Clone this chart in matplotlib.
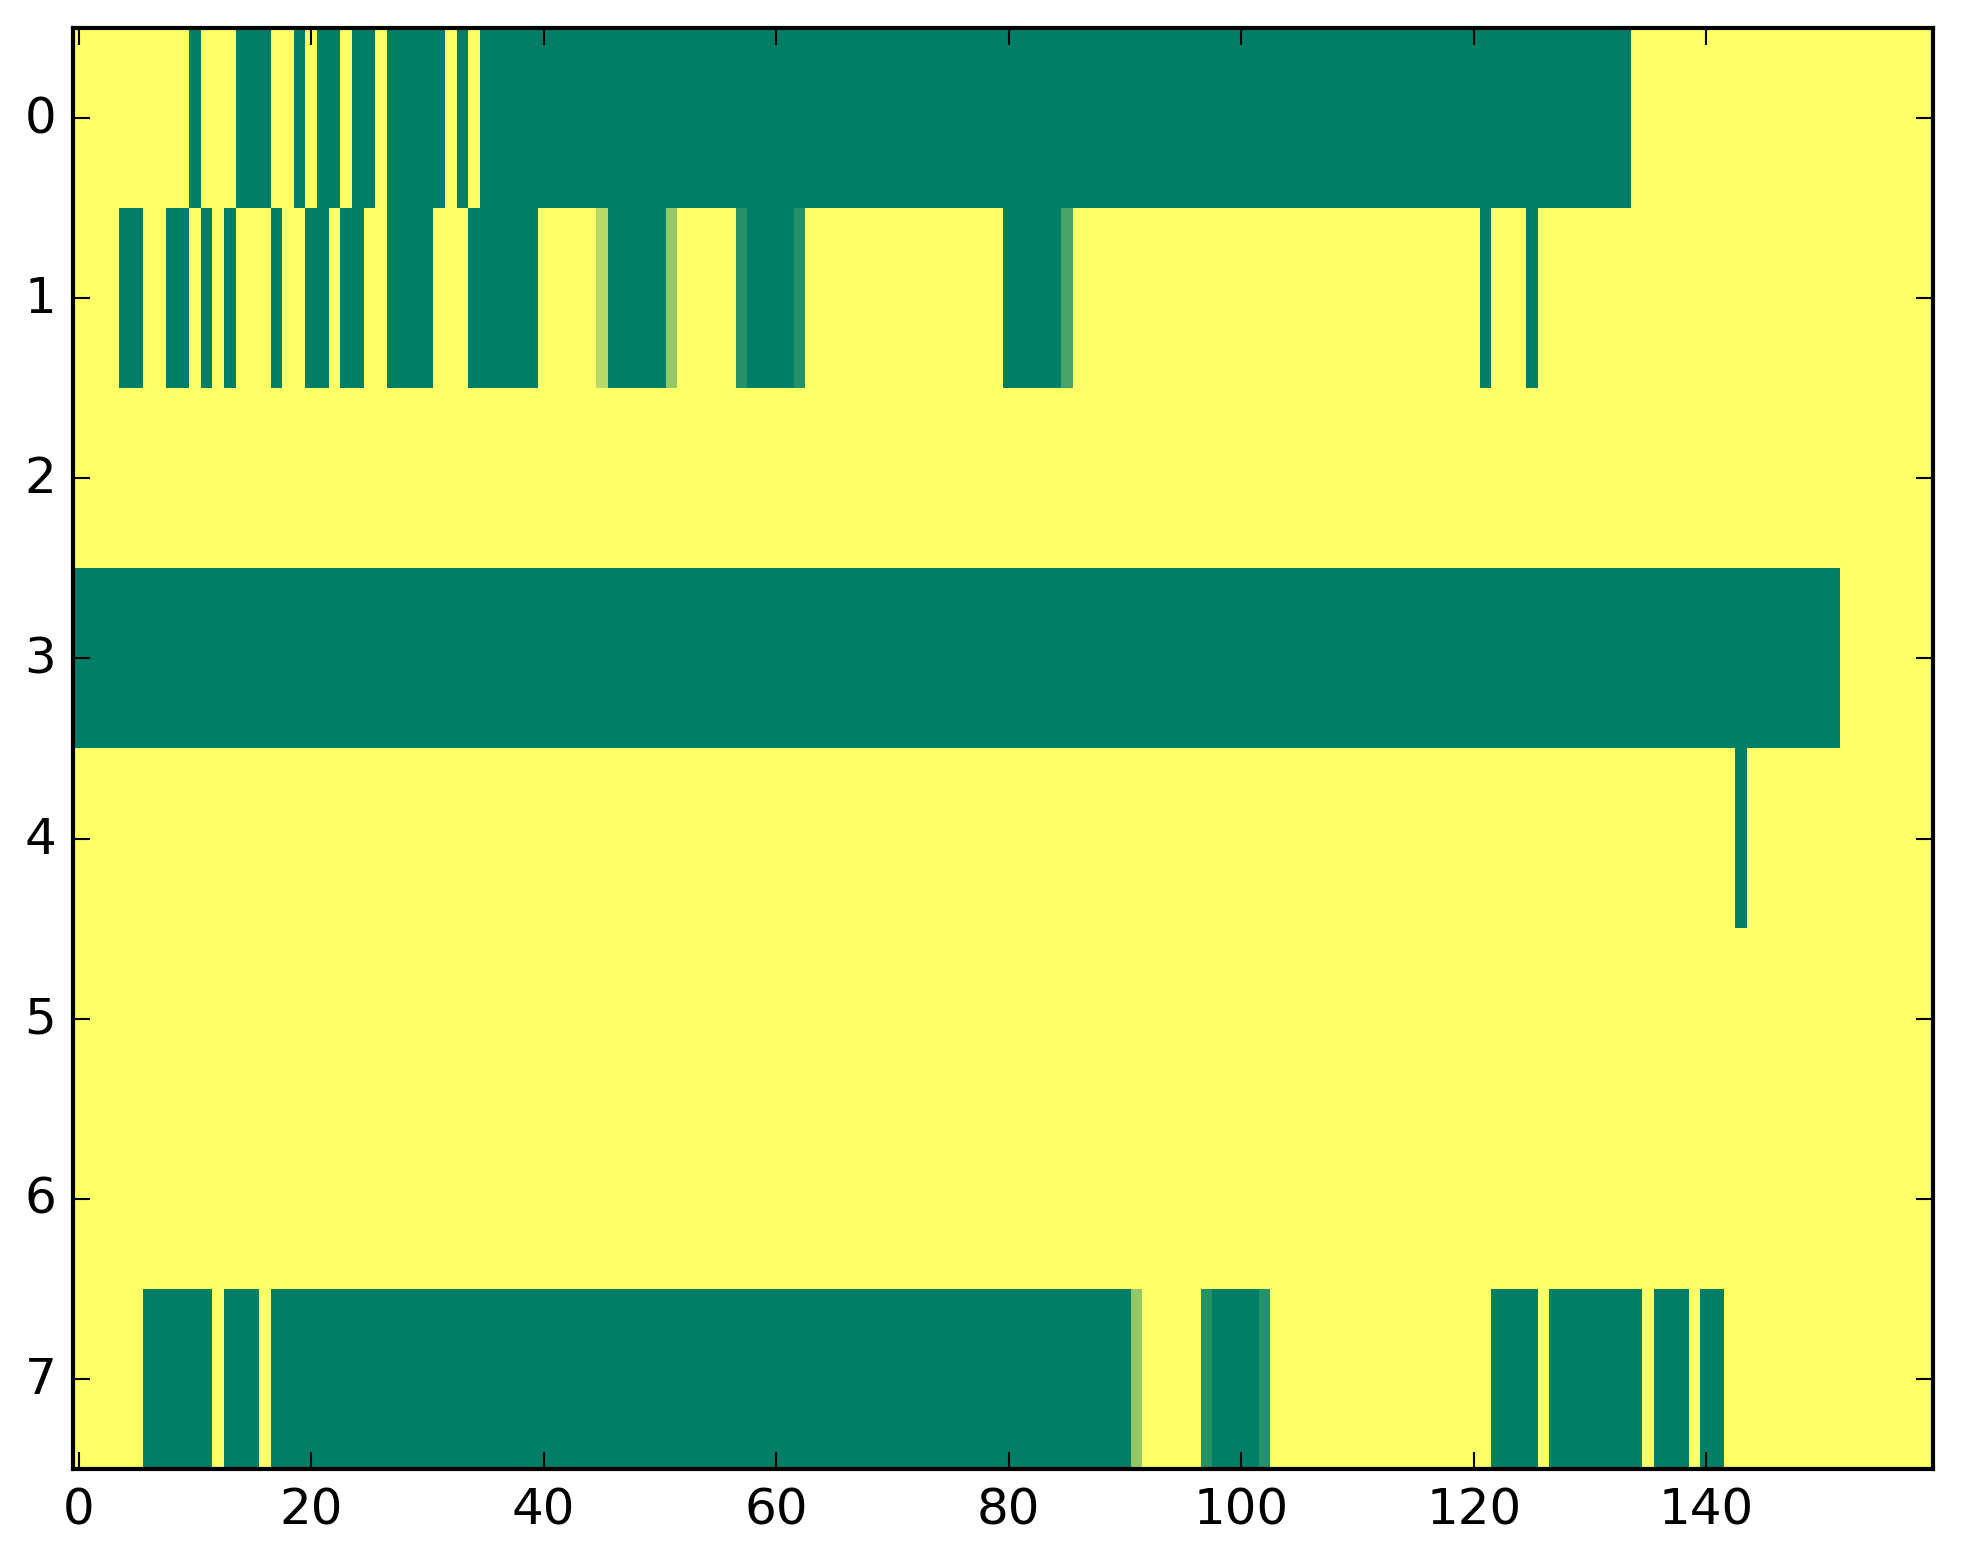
import numpy as np
import matplotlib
matplotlib.use('Agg')
import matplotlib.pyplot as plt

plt.style.use('classic')

n_rows = 8
n_cols = 160

# runs of (first column, last column, value in sevenths) for each row
row_0 = [(10, 10, 7), (14, 16, 7), (19, 19, 7), (21, 22, 7), (24, 25, 7),
         (27, 31, 7), (33, 33, 7), (35, 133, 7)]
row_1 = [(4, 5, 7), (8, 9, 7), (11, 11, 7), (13, 13, 7), (17, 17, 7),
         (20, 21, 7), (23, 24, 7), (27, 30, 7), (34, 39, 7), (45, 45, 2),
         (46, 50, 7), (51, 51, 3), (57, 57, 6), (58, 61, 7), (62, 62, 6),
         (80, 84, 7), (85, 85, 5), (121, 121, 7), (125, 125, 7)]
row_2 = []
row_3 = [(0, 151, 7)]
row_4 = [(143, 143, 7)]
row_5 = []
row_6 = []
row_7 = [(6, 11, 7), (13, 15, 7), (17, 90, 7), (91, 91, 3), (97, 97, 6),
         (98, 101, 7), (102, 102, 6), (122, 125, 7), (127, 134, 7),
         (136, 138, 7), (140, 141, 7)]

rows = [row_0, row_1, row_2, row_3, row_4, row_5, row_6, row_7]

data = np.zeros((n_rows, n_cols))
for i, runs in enumerate(rows):
    for a, b, k in runs:
        data[i, a:b + 1] = k / 7.0

W, H, dpi = 1963, 1564, 300
fig = plt.figure(figsize=(W / dpi, H / dpi), dpi=dpi)
ax = fig.add_axes([73 / W, (H - 1470) / H, 1860 / W, 1441 / H])
ax.imshow(data, cmap='summer_r', vmin=0, vmax=1, aspect='auto',
          interpolation='nearest')

fig.savefig('out.png', dpi=dpi)
